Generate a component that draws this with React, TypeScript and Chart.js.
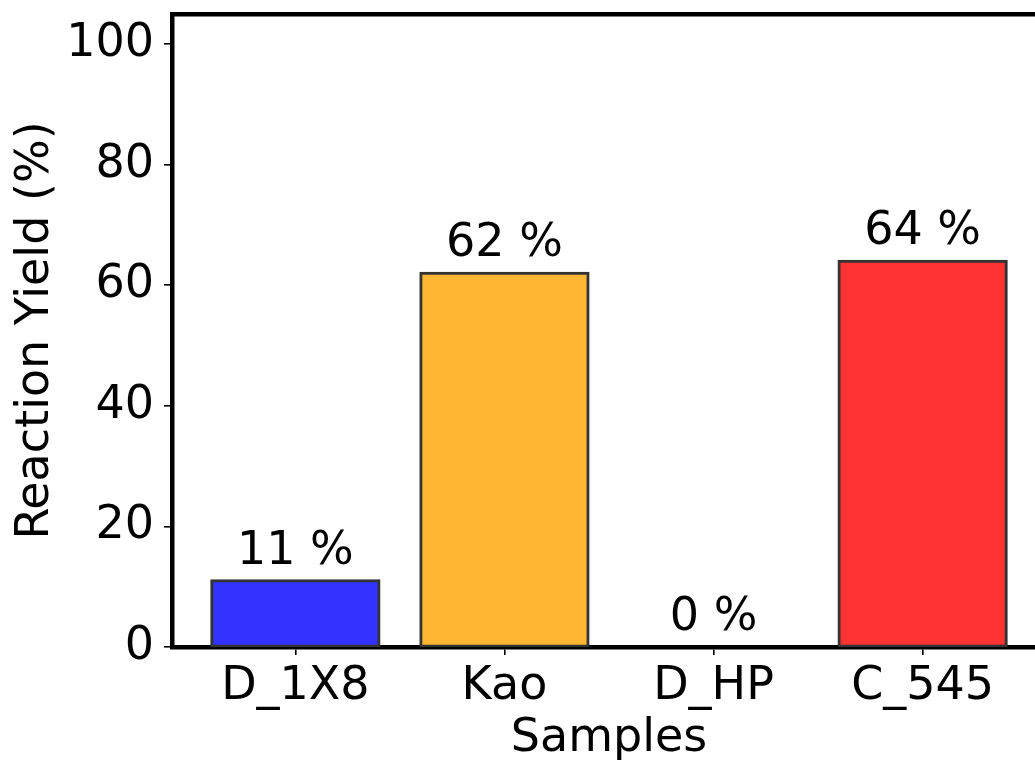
import React, { useEffect, useRef } from 'react';
import { Chart, registerables } from 'chart.js';

Chart.register(...registerables);

const categories = ['D_1X8', 'Kao', 'D_HP', 'C_545'];
const yields = [11, 62, 0, 64];
const barColors = ['#3333ff', '#ffb733', '#33b233', '#ff3333'];
const yTicks = [0, 20, 40, 60, 80, 100];
const xTitle = 'Samples';
const yTitle = 'Reaction Yield (%)';

const FAMILY = '"DejaVu Sans", "Liberation Sans", sans-serif';
const FONT_SIZE = 46;
const SPINE = 4.5;

const valueLabels = {
  id: 'valueLabels',
  afterDatasetsDraw(chart: any) {
    const { ctx } = chart;
    const meta = chart.getDatasetMeta(0);
    ctx.save();
    ctx.font = `${FONT_SIZE}px ${FAMILY}`;
    ctx.fillStyle = '#000';
    ctx.textAlign = 'center';
    ctx.textBaseline = 'alphabetic';
    meta.data.forEach((el: any, i: number) => {
      ctx.fillText(`${yields[i]} %`, el.x, el.y - 17);
    });
    ctx.restore();
  },
};

export default function App() {
  const ref = useRef<HTMLCanvasElement>(null);

  useEffect(() => {
    const font = { family: FAMILY, size: FONT_SIZE };
    const chart = new Chart(ref.current as HTMLCanvasElement, {
      type: 'bar',
      data: {
        datasets: [
          {
            data: yields.map((v, i) => ({ x: i, y: v })),
            backgroundColor: barColors,
            borderColor: '#333333',
            borderWidth: 3,
            borderSkipped: false,
            inflateAmount: 1.5,
            categoryPercentage: 1,
            barPercentage: 0.8,
          } as any,
        ],
      },
      options: {
        responsive: false,
        animation: false,
        devicePixelRatio: 1,
        layout: { padding: 0 },
        plugins: { legend: { display: false }, tooltip: { enabled: false } },
        scales: {
          x: {
            type: 'linear',
            position: 'bottom',
            min: -0.59,
            max: 3.59,
            offset: false,
            afterBuildTicks: (s: any) => {
              s.ticks = categories.map((_, i) => ({ value: i }));
            },
            afterFit: (s: any) => {
              s.height = 113;
              s.paddingLeft = 0;
              s.paddingRight = 0;
            },
            ticks: {
              autoSkip: false,
              maxRotation: 0,
              minRotation: 0,
              padding: 4,
              color: '#000',
              font,
              callback: (v: any) => categories[v] ?? '',
            },
            grid: {
              offset: false,
              drawOnChartArea: false,
              drawTicks: true,
              tickLength: 8,
              color: '#000',
              lineWidth: 1.6,
            },
            border: { display: true, color: '#000', width: SPINE },
            title: {
              display: true,
              text: xTitle,
              color: '#000',
              font: { family: FAMILY, size: FONT_SIZE, lineHeight: 0.9 },
              padding: { top: 0, bottom: 0 },
            },
          },
          y: {
            type: 'linear',
            position: 'left',
            min: 0,
            max: 105,
            afterBuildTicks: (s: any) => {
              s.ticks = yTicks.map((v) => ({ value: v }));
            },
            afterFit: (s: any) => {
              s.width = 172;
              s.paddingTop = 0;
              s.paddingBottom = 0;
            },
            ticks: { padding: 10, color: '#000', font },
            grid: {
              drawOnChartArea: false,
              drawTicks: true,
              tickLength: 8,
              color: '#000',
              lineWidth: 1.6,
            },
            border: { display: true, color: '#000', width: SPINE },
            title: {
              display: true,
              text: yTitle,
              color: '#000',
              font: { family: FAMILY, size: FONT_SIZE, lineHeight: 0.9 },
              padding: { top: 15, bottom: 0 },
            },
          },
          xTop: {
            type: 'linear',
            axis: 'x',
            position: 'top',
            min: 0,
            max: 1,
            ticks: { display: false },
            grid: { drawOnChartArea: false, drawTicks: false },
            border: { display: true, color: '#000', width: SPINE },
            afterFit: (s: any) => {
              s.height = 14;
              s.paddingLeft = 0;
              s.paddingRight = 0;
            },
          },
          yRight: {
            type: 'linear',
            axis: 'y',
            position: 'right',
            min: 0,
            max: 1,
            ticks: { display: false },
            grid: { drawOnChartArea: false, drawTicks: false },
            border: { display: true, color: '#000', width: SPINE },
            afterFit: (s: any) => {
              s.width = 14;
              s.paddingTop = 0;
              s.paddingBottom = 0;
            },
          },
        } as any,
      },
      plugins: [valueLabels],
    });
    return () => chart.destroy();
  }, []);

  return (
    <div
      style={{
        position: 'fixed',
        left: 0,
        top: 0,
        width: 1035,
        height: 760,
        overflow: 'hidden',
        background: '#fff',
      }}
    >
      <canvas ref={ref} width={1060} height={760} style={{ display: 'block' }} />
    </div>
  );
}
